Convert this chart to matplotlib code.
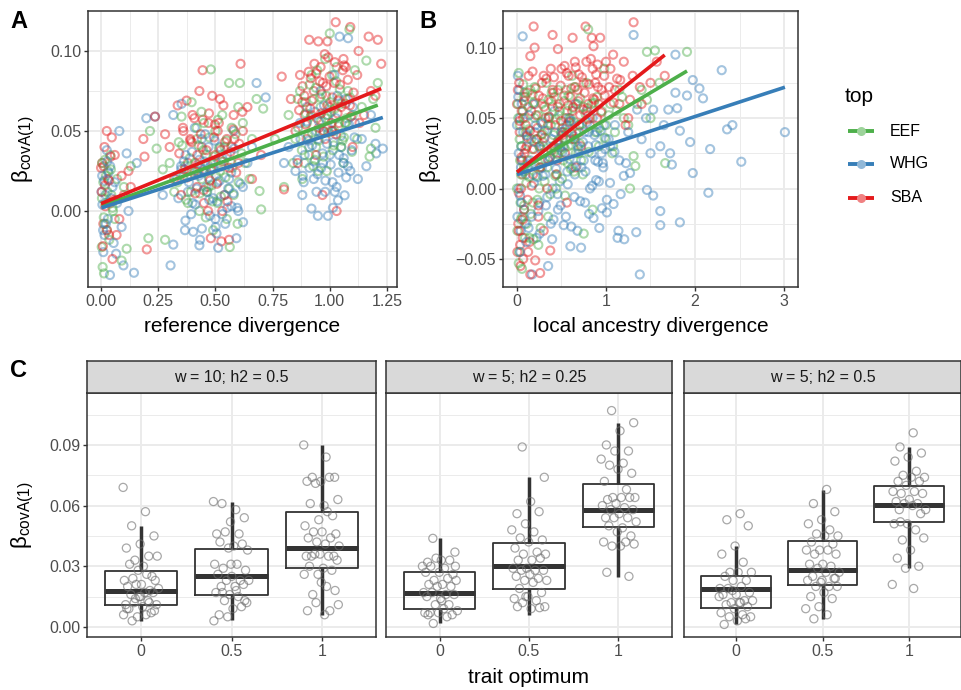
import numpy as np
import matplotlib
matplotlib.use("Agg")
import matplotlib.pyplot as plt
from matplotlib.colors import to_rgba

plt.rcParams['font.family'] = ['Liberation Sans', 'DejaVu Sans']
plt.rcParams['mathtext.fontset'] = 'custom'
plt.rcParams['mathtext.rm'] = 'Liberation Sans'
plt.rcParams['mathtext.it'] = 'Liberation Sans:italic'

# ---------------- data ----------------
groups = ['EEF', 'WHG', 'SBA']
group_colors = ['#4DAF4A', '#377EB8', '#E41A1C']

# panel A: reference divergence vs beta (spread points)
a_eef_x = [0.003, 0.007, 0.013, 0.02, 0.01, 0.03, 0.045, 0.06, 0.09, 0.112, 0.005, 0.025, 0.04, 0.07, 0.015, 0.05, 0.1, 0.13,
           0.207, 0.214, 0.243, 0.28, 0.3, 0.32, 0.352, 0.396, 0.42, 0.44, 0.46, 0.48, 0.5, 0.52, 0.54, 0.56, 0.58, 0.607, 0.63, 0.66,
           0.693, 0.70, 0.49, 0.563, 0.38, 0.41, 0.45, 0.47, 0.51, 0.53, 0.55, 0.6, 0.36, 0.43, 0.57, 0.65, 0.34, 0.62, 0.27, 0.68,
           0.8, 0.709, 0.82, 0.85, 0.87, 0.89, 0.9, 0.92, 0.94, 0.96, 0.98, 1.0, 1.02, 1.04, 1.06, 1.086, 1.1, 1.12, 1.16, 1.174,
           1.18, 1.2, 1.21, 0.88, 0.93, 0.97, 1.01, 1.05, 1.08, 0.95, 0.99, 1.03, 0.91, 1.07, 1.14, 0.86, 0.84, 1.11, 0.76, 1.19]
a_eef_y = [-0.0225, -0.035, -0.039, 0.005, 0.018, 0.025, 0.01, -0.005, -0.031, -0.0236, 0.03, -0.012, 0.035, 0.02, -0.008, 0.002, 0.015, 0.028,
           -0.017, 0.05, 0.039, -0.018, 0.03, 0.012, 0.059, 0.068, 0.045, 0.02, 0.035, 0.0885, 0.05, 0.025, 0.04, 0.08, 0.01, 0.08, 0.03, 0.045,
           0.0125, 0.001, -0.012, -0.0225, 0.005, 0.03, 0.055, 0.015, 0.005, 0.06, -0.005, 0.065, 0.022, 0.0, 0.03, 0.02, 0.043, 0.055, 0.026, 0.07,
           0.015, 0.064, 0.06, 0.045, 0.075, 0.03, 0.055, 0.085, 0.04, 0.065, 0.095, 0.111, 0.05, 0.07, 0.03, 0.1135, 0.06, 0.045, 0.094, 0.034,
           0.039, 0.052, 0.08, 0.02, 0.07, 0.05, 0.085, 0.04, 0.075, 0.025, 0.06, 0.09, 0.035, 0.055, 0.065, 0.07, 0.03, 0.088, 0.045, 0.07]
# dense cores
a_eef_cx = [0.004, 0.012, 0.022, 0.028, 0.036, 0.043, 0.052, 0.018,
            0.335, 0.355, 0.372, 0.388, 0.405, 0.418, 0.432, 0.447, 0.458, 0.466, 0.474, 0.483, 0.492, 0.503, 0.511, 0.524, 0.537,
            0.548, 0.561, 0.574, 0.588, 0.597, 0.615, 0.462, 0.478,
            0.368, 0.393, 0.427, 0.452, 0.487, 0.516, 0.544, 0.571, 0.601, 0.439,
            0.862, 0.878, 0.893, 0.905, 0.917, 0.928, 0.939, 0.951, 0.962, 0.973, 0.984, 0.995, 1.006, 1.017, 1.028, 1.039, 1.051,
            1.062, 1.074, 1.088, 1.097, 0.945, 0.987, 1.022, 0.912,
            0.895, 0.922, 0.958, 0.981, 1.013, 1.044, 1.067, 0.935, 1.002, 1.056]
a_eef_cy = [0.008, -0.004, 0.022, 0.012, -0.018, 0.026, 0.0, 0.032,
            0.018, 0.041, 0.007, 0.033, 0.024, 0.052, 0.011, 0.038, -0.004, 0.029, 0.046, 0.016, 0.034, 0.022, 0.057, 0.009, 0.031,
            0.044, 0.014, 0.027, 0.048, -0.008, 0.036, 0.012, 0.025,
            0.028, 0.012, 0.041, 0.024, 0.006, 0.039, 0.021, 0.052, 0.018, 0.062,
            0.052, 0.038, 0.068, 0.047, 0.059, 0.028, 0.077, 0.044, 0.056, 0.034, 0.072, 0.049, 0.062, 0.041, 0.081, 0.053, 0.067,
            0.046, 0.058, 0.071, 0.037, 0.088, 0.025, 0.064, 0.079,
            0.061, 0.049, 0.071, 0.058, 0.038, 0.076, 0.055, 0.032, 0.068, 0.044]

a_whg_x = [0.01, 0.039, 0.066, 0.098, 0.144, 0.08, 0.112, 0.156, 0.005, 0.02, 0.03, 0.05, 0.015, 0.04, 0.07, 0.09, 0.12, 0.025, 0.06, 0.002,
           0.198, 0.236, 0.316, 0.352, 0.304, 0.316, 0.43, 0.512, 0.592, 0.621, 0.367, 0.403, 0.68, 0.72, 0.33, 0.37, 0.40, 0.42, 0.44, 0.46, 0.48,
           0.50, 0.52, 0.54, 0.56, 0.58, 0.60, 0.64, 0.45, 0.47, 0.49, 0.51, 0.53, 0.38, 0.55, 0.41, 0.35, 0.62, 0.27, 0.66, 0.57, 0.43,
           1.043, 1.08, 1.232, 1.2, 1.203, 1.16, 1.123, 0.92, 0.948, 0.992, 1.014, 1.036, 1.065, 0.82, 0.85, 0.87, 0.89, 0.9, 0.93, 0.95,
           0.97, 0.99, 1.01, 1.03, 1.05, 1.07, 1.09, 1.11, 1.14, 0.96, 0.98, 1.0, 1.02, 0.94, 1.06, 0.88, 1.18, 0.8, 0.91, 1.1]
a_whg_y = [-0.0257, -0.040, -0.0267, -0.034, -0.0386, 0.050, 0.036, 0.030, 0.022, 0.01, -0.005, 0.015, -0.015, 0.028, 0.005, -0.01, 0.0, 0.038, 0.018, 0.012,
           0.058, 0.059, 0.060, 0.067, -0.034, -0.021, -0.0215, -0.023, -0.017, -0.007, -0.012, -0.013, 0.080, 0.071, 0.02, 0.035, 0.005, 0.025, 0.045, 0.015, 0.03,
           -0.005, 0.04, 0.01, 0.02, 0.05, 0.0, 0.03, 0.025, 0.04, 0.008, 0.018, -0.002, 0.012, 0.035, 0.052, 0.028, 0.015, 0.01, 0.04, 0.003, 0.032,
           0.109, 0.108, 0.039, 0.042, 0.036, 0.028, 0.020, 0.0015, -0.003, -0.003, 0.002, 0.0067, 0.0098, 0.04, 0.025, 0.055, 0.035, 0.065, 0.02, 0.045,
           0.03, 0.06, 0.05, 0.015, 0.04, 0.07, 0.025, 0.055, 0.045, 0.075, 0.012, 0.035, 0.085, 0.05, 0.03, 0.01, 0.06, 0.03, 0.04, 0.065]
a_whg_cx = [0.006, 0.014, 0.021, 0.033, 0.044, 0.055, 0.027, 0.009,
            0.338, 0.351, 0.369, 0.384, 0.398, 0.412, 0.427, 0.441, 0.453, 0.464, 0.476, 0.487, 0.497, 0.508, 0.519, 0.531, 0.543,
            0.556, 0.569, 0.582, 0.595, 0.609, 0.47, 0.455, 0.505,
            0.362, 0.394, 0.418, 0.446, 0.473, 0.501, 0.526, 0.552, 0.579, 0.433,
            0.858, 0.872, 0.886, 0.899, 0.911, 0.923, 0.936, 0.947, 0.958, 0.969, 0.981, 0.993, 1.004, 1.016, 1.027, 1.038, 1.049,
            1.061, 1.072, 1.084, 1.096, 1.108, 0.975, 0.942, 1.033,
            0.882, 0.907, 0.932, 0.963, 0.988, 1.012, 1.041, 1.079, 0.953, 1.022]
a_whg_cy = [0.004, 0.019, -0.008, 0.024, 0.008, -0.02, 0.031, -0.012,
            0.008, 0.026, -0.006, 0.018, 0.037, 0.004, 0.022, -0.011, 0.031, 0.012, -0.003, 0.027, 0.044, 0.006, 0.019, 0.033, -0.008,
            0.014, 0.024, 0.039, 0.002, 0.017, 0.021, 0.048, -0.014,
            0.031, -0.002, 0.014, 0.026, 0.007, -0.01, 0.028, 0.002, 0.011, -0.018,
            0.032, 0.045, 0.018, 0.056, 0.027, 0.041, 0.062, 0.023, 0.049, 0.036, 0.019, 0.052, 0.029, 0.043, 0.058, 0.024, 0.047,
            0.033, 0.021, 0.054, 0.038, 0.046, 0.066, 0.012, 0.072,
            0.022, 0.044, 0.031, 0.027, 0.042, 0.018, 0.035, 0.028, 0.056, 0.012]

a_sba_x = [0.025, 0.047, 0.05, 0.068, 0.0, 0.017, 0.005, 0.01, 0.03, 0.04, 0.06, 0.08, 0.1, 0.12, 0.015, 0.035, 0.09, 0.13,
           0.185, 0.19, 0.2, 0.236, 0.335, 0.374, 0.444, 0.48, 0.526, 0.56, 0.61, 0.3, 0.32, 0.36, 0.38, 0.4, 0.42, 0.44, 0.46, 0.47,
           0.5, 0.52, 0.54, 0.55, 0.58, 0.6, 0.64, 0.66, 0.45, 0.49, 0.51, 0.53, 0.39, 0.43, 0.57, 0.35, 0.62, 0.7, 0.28, 0.41,
           1.026, 1.09, 1.17, 1.21, 0.91, 0.95, 0.99, 1.225, 0.79, 1.126, 0.8, 1.03, 0.968, 0.83, 0.85, 0.87, 0.89, 0.93, 0.96, 0.98,
           1.0, 1.02, 1.04, 1.06, 1.08, 1.1, 1.12, 1.15, 1.18, 0.94, 0.97, 1.01, 1.05, 0.9, 1.07, 0.88, 1.13, 0.86, 1.2, 0.92]
a_sba_y = [0.050, 0.046, -0.030, -0.015, 0.027, 0.016, 0.03, -0.008, 0.02, 0.005, 0.035, -0.005, 0.01, 0.025, 0.04, -0.015, 0.022, 0.015,
           0.045, 0.034, -0.024, 0.059, 0.066, 0.069, 0.088, -0.017, -0.019, -0.018, 0.092, 0.04, 0.02, 0.05, 0.03, 0.06, 0.015, 0.04, 0.025, 0.055,
           0.035, 0.07, 0.01, 0.045, 0.06, 0.03, 0.065, 0.02, 0.005, 0.03, 0.05, 0.0, 0.045, 0.075, 0.04, 0.01, 0.05, 0.035, 0.048, 0.025,
           0.118, 0.115, 0.109, 0.107, 0.107, 0.106, 0.106, 0.092, 0.084, 0.1, 0.0135, 0.0, 0.01, 0.07, 0.05, 0.085, 0.06, 0.075, 0.09, 0.045,
           0.065, 0.08, 0.055, 0.095, 0.07, 0.04, 0.085, 0.06, 0.075, 0.035, 0.08, 0.05, 0.065, 0.045, 0.09, 0.068, 0.055, 0.03, 0.072, 0.06]
a_sba_cx = [0.003, 0.011, 0.019, 0.026, 0.034, 0.042, 0.057, 0.008,
            0.342, 0.358, 0.377, 0.391, 0.408, 0.423, 0.436, 0.449, 0.461, 0.472, 0.481, 0.494, 0.506, 0.515, 0.528, 0.541, 0.553,
            0.566, 0.578, 0.591, 0.604, 0.618, 0.468, 0.486, 0.535,
            0.365, 0.397, 0.421, 0.444, 0.476, 0.498, 0.523, 0.559, 0.583, 0.412,
            0.866, 0.881, 0.895, 0.908, 0.921, 0.933, 0.944, 0.956, 0.966, 0.978, 0.989, 0.999, 1.011, 1.022, 1.034, 1.045, 1.057,
            1.068, 1.079, 1.092, 1.104, 0.952, 0.993, 1.027, 0.917,
            0.889, 0.915, 0.941, 0.962, 0.985, 1.008, 1.037, 1.063, 1.088, 0.974]
a_sba_cy = [0.012, 0.028, 0.003, -0.012, 0.019, 0.034, 0.007, -0.022,
            0.036, 0.052, 0.021, 0.044, 0.058, 0.029, 0.048, 0.013, 0.038, 0.061, 0.026, 0.046, 0.017, 0.055, 0.031, 0.043, 0.006,
            0.037, 0.051, 0.024, 0.042, 0.062, 0.0, 0.072, 0.066,
            0.026, 0.043, 0.035, 0.057, 0.019, 0.054, 0.038, 0.027, 0.045, 0.011,
            0.063, 0.078, 0.054, 0.087, 0.069, 0.092, 0.058, 0.081, 0.073, 0.098, 0.066, 0.084, 0.071, 0.093, 0.061, 0.079, 0.088,
            0.067, 0.082, 0.059, 0.074, 0.052, 0.096, 0.048, 0.083,
            0.072, 0.064, 0.086, 0.061, 0.078, 0.055, 0.069, 0.091, 0.066, 0.05]

# panel B: local ancestry divergence vs beta
b_eef_x = [0.02, 0.07, 0.02, 0.056, 0.01, 0.03, 0.05, 0.08, 0.0, 0.04, 0.06, 0.09, 0.015, 0.035, 0.075, 0.1, 0.005, 0.045, 0.025, 0.065,
           0.12, 0.15, 0.18, 0.2, 0.22, 0.25, 0.28, 0.3, 0.33, 0.35, 0.38, 0.4, 0.42, 0.45, 0.48, 0.5, 0.52, 0.55, 0.58, 0.6, 0.62, 0.65,
           0.68, 0.7, 0.72, 0.75, 0.78, 0.8, 0.82, 0.85, 0.88, 0.9, 0.92, 0.95, 0.98, 1.0, 0.14, 0.24, 0.34, 0.44, 0.54, 0.64, 0.74, 0.84,
           0.16, 0.26, 0.36, 0.46, 0.56, 0.66,
           1.05, 1.1, 1.15, 1.2, 1.27, 1.31, 1.33, 1.46, 1.46, 1.55, 1.665, 1.91, 1.08, 1.12, 1.18, 1.25, 1.35, 1.4, 1.5, 1.6]
b_eef_y = [0.082, 0.074, -0.053, -0.057, 0.06, 0.045, 0.03, 0.015, 0.0, -0.01, -0.02, -0.035, 0.05, 0.02, 0.065, 0.04, -0.03, 0.01, -0.045, 0.055,
           0.02, 0.07, -0.01, 0.05, 0.035, 0.0, 0.06, 0.025, 0.075, -0.02, 0.045, 0.03, 0.065, 0.01, 0.055, 0.04, 0.02, 0.07, 0.03, 0.05, 0.08, 0.035,
           0.06, 0.045, 0.02, -0.032, 0.075, 0.113, 0.05, -0.015, 0.04, 0.065, 0.03, 0.055, 0.085, 0.045, -0.035, -0.04, 0.015, 0.0, -0.005, 0.012, 0.01, 0.06,
           0.035, 0.015, 0.05, 0.07, 0.04, 0.025,
           0.06, 0.04, 0.07, 0.05, 0.0, 0.023, 0.016, 0.097, 0.063, 0.098, 0.018, 0.097, 0.03, 0.055, 0.065, 0.045, 0.06, 0.07, 0.05, 0.075]
b_eef_cx = [0.03, 0.06, 0.09, 0.11, 0.13, 0.17, 0.19, 0.21, 0.23, 0.27, 0.29, 0.31, 0.32, 0.37, 0.39, 0.41, 0.43, 0.47, 0.49, 0.51,
            0.53, 0.57, 0.59, 0.61, 0.63, 0.67, 0.69, 0.71, 0.73, 0.77, 0.08, 0.14, 0.2, 0.26, 0.34, 0.4, 0.46, 0.52, 0.58, 0.64,
            0.105, 0.125, 0.155, 0.175, 0.215, 0.235, 0.265, 0.285, 0.315, 0.355, 0.375, 0.415, 0.435, 0.465, 0.505, 0.535, 0.565,
            0.605, 0.645, 0.705, 0.745, 0.805, 0.865, 0.925, 0.985, 1.03, 1.07, 0.045, 0.085, 0.185]
b_eef_cy = [0.035, 0.012, 0.05, -0.025, 0.042, 0.028, 0.061, 0.016, -0.008, 0.047, 0.033, 0.005, 0.056, 0.022, 0.068, 0.038, 0.009, 0.052, 0.027, 0.043,
            0.062, 0.018, 0.048, 0.031, 0.057, 0.039, 0.025, 0.064, 0.046, 0.053, -0.012, 0.008, 0.072, 0.03, 0.041, 0.058, 0.024, 0.036, 0.066, 0.047,
            0.004, 0.058, -0.018, 0.067, 0.009, 0.052, -0.028, 0.039, 0.021, 0.063, -0.004, 0.026, 0.049, 0.034, 0.007, 0.029, 0.055,
            0.014, 0.072, 0.032, 0.058, 0.026, 0.061, 0.043, 0.036, 0.052, 0.025, -0.022, 0.068, -0.036]

b_whg_x = [0.064, 0.17, 0.01, 0.03, 0.05, 0.02, 0.08, 0.0, 0.04, 0.06, 0.1, 0.015, 0.035, 0.07, 0.09, 0.025, 0.045, 0.005, 0.12, 0.055,
           0.15, 0.2, 0.25, 0.3, 0.35, 0.35, 0.4, 0.45, 0.5, 0.55, 0.6, 0.6, 0.65, 0.7, 0.72, 0.75, 0.8, 0.85, 0.86, 0.9, 0.95, 0.954, 1.0,
           1.01, 1.01, 0.18, 0.28, 0.38, 0.48, 0.58, 0.68, 0.78, 0.88, 0.98, 0.22, 0.32, 0.42, 0.52, 0.62, 0.82, 0.92, 0.66, 0.76, 0.46, 0.56,
           1.31, 2.3, 1.78, 1.975, 2.05, 2.09, 1.91, 1.78, 2.42, 2.36, 3.01, 2.17, 2.52, 1.975, 2.15, 1.83, 1.61, 1.61, 1.34, 1.205, 1.13,
           1.14, 1.38, 1.945, 1.83, 1.7, 1.8, 1.53, 1.35, 1.61, 1.5, 1.46, 1.53, 1.27, 1.2, 1.085, 1.72, 1.74, 1.05, 1.1, 1.15, 1.25, 1.4, 1.45, 1.65]
b_whg_y = [0.108, -0.061, 0.08, 0.05, 0.03, 0.0, -0.015, 0.045, -0.03, 0.02, 0.01, 0.065, -0.005, 0.04, -0.025, 0.07, 0.015, -0.02, 0.035, 0.06,
           0.02, 0.04, -0.01, 0.03, 0.05, -0.055, 0.0, 0.025, 0.04, -0.02, 0.035, -0.041, 0.01, 0.045, -0.042, 0.02, 0.03, 0.05, -0.021, 0.04, 0.025, -0.014, 0.035,
           -0.008, -0.017, 0.06, 0.015, -0.025, 0.005, 0.05, -0.03, 0.055, 0.02, 0.045, -0.035, 0.01, 0.055, 0.03, 0.015, 0.0, 0.005, 0.06, 0.04, -0.015, 0.045,
           0.109, 0.084, 0.095, 0.077, 0.071, 0.064, 0.066, 0.068, 0.045, 0.042, 0.040, 0.028, 0.019, 0.011, -0.003, -0.024, -0.026, -0.016, -0.031, -0.036, -0.035,
           -0.030, -0.061, 0.033, 0.041, 0.056, 0.057, 0.056, 0.056, 0.030, 0.025, -0.001, -0.005, 0.011, 0.009, -0.011, 0.025, 0.017, 0.03, 0.045, 0.02, 0.04, 0.035, 0.05, 0.045]
b_whg_cx = [0.02, 0.05, 0.08, 0.11, 0.13, 0.16, 0.19, 0.21, 0.24, 0.27, 0.29, 0.31, 0.34, 0.37, 0.39, 0.41, 0.44, 0.47, 0.49, 0.51,
            0.54, 0.57, 0.59, 0.61, 0.64, 0.67, 0.69, 0.71, 0.74, 0.77, 0.79, 0.81, 0.84, 0.87, 0.89, 0.91, 0.94, 0.97, 0.99, 1.03,
            0.105, 0.135, 0.165, 0.195, 0.225, 0.255, 0.285, 0.325, 0.355, 0.395, 0.425, 0.455, 0.485, 0.525, 0.565, 0.605, 0.645,
            0.685, 0.725, 0.765, 0.805, 0.845, 0.885, 0.925, 0.965, 1.045, 1.095, 1.165, 1.225, 0.035]
b_whg_cy = [0.025, -0.01, 0.012, 0.038, -0.028, 0.018, 0.004, 0.045, -0.016, 0.028, 0.009, 0.041, -0.006, 0.022, 0.035, -0.022, 0.014, 0.031, -0.012, 0.026,
            0.042, 0.003, 0.021, -0.027, 0.037, 0.016, 0.028, -0.009, 0.033, 0.012, 0.047, -0.018, 0.025, 0.038, 0.006, 0.019, 0.041, 0.015, 0.028, 0.035,
            -0.038, 0.052, -0.02, 0.033, 0.008, -0.032, 0.046, -0.012, 0.02, -0.036, 0.04, -0.004, 0.029, -0.026, 0.012, 0.048, -0.006,
            0.03, 0.015, -0.01, 0.04, 0.002, 0.031, -0.028, 0.018, 0.004, 0.026, -0.004, 0.018, -0.045]

b_sba_x = [0.04, 0.15, 0.02, 0.0, 0.01, 0.03, 0.05, 0.07, 0.09, 0.11, 0.015, 0.035, 0.06, 0.08, 0.1, 0.025, 0.045, 0.005, 0.13, 0.065, 0.085, 0.055,
           0.187, 0.77, 0.40, 0.625, 0.198, 0.15, 0.84, 0.935, 0.46, 0.86, 0.26, 0.205, 0.374, 0.2, 0.25, 0.3, 0.35, 0.4, 0.45, 0.5, 0.55, 0.6,
           0.65, 0.7, 0.75, 0.8, 0.85, 0.9, 0.95, 1.0, 0.22, 0.28, 0.32, 0.38, 0.42, 0.48, 0.52, 0.58, 0.62, 0.68, 0.72, 0.78, 0.82, 0.88,
           0.92, 0.98, 0.18, 0.24, 0.34, 0.44, 0.54, 0.64, 0.3, 0.56, 0.66,
           1.31, 1.57, 1.38, 1.27, 1.16, 1.05, 1.1, 1.15, 1.2, 1.25, 1.3, 1.4, 1.5, 1.66, 1.08, 1.22]
b_sba_y = [-0.055, -0.061, -0.003, 0.06, 0.07, 0.04, 0.02, 0.05, 0.065, 0.03, -0.025, -0.04, 0.01, -0.015, 0.045, 0.075, 0.0, -0.045, 0.08, -0.035, 0.025, 0.055,
           0.115, 0.115, 0.109, 0.107, 0.100, 0.094, 0.107, 0.107, 0.099, 0.101, -0.060, -0.051, -0.044, 0.06, 0.03, 0.08, 0.045, 0.07, 0.02, 0.085, 0.05, 0.065,
           0.09, 0.04, 0.075, 0.06, 0.085, 0.05, 0.07, 0.09, 0.035, 0.075, 0.05, 0.085, 0.03, 0.06, 0.04, 0.08, 0.055, 0.07, 0.03, 0.09, 0.045, 0.075,
           0.06, 0.08, 0.01, -0.02, 0.0, 0.01, 0.025, 0.035, -0.03, -0.01, 0.015,
           0.118, 0.090, 0.072, 0.063, 0.077, 0.085, 0.07, 0.06, 0.09, 0.05, 0.08, 0.06, 0.075, 0.08, 0.095, 0.045]
b_sba_cx = [0.03, 0.05, 0.08, 0.11, 0.12, 0.16, 0.19, 0.21, 0.23, 0.26, 0.29, 0.31, 0.33, 0.36, 0.39, 0.41, 0.43, 0.46, 0.49, 0.51,
            0.53, 0.56, 0.59, 0.61, 0.63, 0.66, 0.69, 0.71, 0.73, 0.76, 0.79, 0.81, 0.83, 0.87, 0.89, 0.91, 0.02, 0.07, 0.14, 0.24,
            0.095, 0.115, 0.145, 0.175, 0.215, 0.245, 0.275, 0.305, 0.345, 0.385, 0.415, 0.455, 0.495, 0.535, 0.575, 0.615, 0.655,
            0.695, 0.745, 0.795, 0.855, 0.905, 0.945, 0.985, 1.035, 1.085, 1.125, 0.065, 0.125, 0.165]
b_sba_cy = [0.048, 0.022, 0.062, 0.037, -0.008, 0.055, 0.028, 0.071, 0.043, 0.015, 0.064, 0.036, 0.078, 0.051, 0.027, 0.068, 0.045, 0.058, 0.073, 0.038,
            0.066, 0.082, 0.047, 0.071, 0.058, 0.086, 0.062, 0.052, 0.079, 0.068, 0.057, 0.074, 0.092, 0.063, 0.081, 0.072, -0.03, -0.05, -0.038, -0.012,
            0.028, 0.068, 0.041, 0.083, 0.052, 0.066, 0.038, 0.058, 0.021, 0.062, 0.079, 0.033, 0.048, 0.087, 0.059, 0.039, 0.072,
            0.081, 0.056, 0.049, 0.064, 0.088, 0.054, 0.066, 0.072, 0.061, 0.078, -0.022, -0.045, 0.002]

# fitted lines (intercept, slope) per group EEF, WHG, SBA
a_fit_intercept = [0.0029, 0.0019, 0.0046]
a_fit_slope = [0.0523, 0.0459, 0.0587]
b_fit_intercept = [0.0116, 0.0099, 0.0116]
b_fit_slope = [0.0376, 0.0206, 0.0501]

# panel C: boxplots per facet
facet_labels = ['w = 10; h2 = 0.5', 'w = 5; h2 = 0.25', 'w = 5; h2 = 0.5']
optimum_labels = ['0', '0.5', '1']

c1_med = [0.018, 0.0254, 0.0388]
c1_q1 = [0.0107, 0.0157, 0.029]
c1_q3 = [0.0277, 0.0383, 0.0566]
c1_lo = [0.003, 0.0036, 0.0058]
c1_hi = [0.0499, 0.0618, 0.0898]

c2_med = [0.0167, 0.0301, 0.0576]
c2_q1 = [0.0089, 0.0188, 0.0495]
c2_q3 = [0.0271, 0.0413, 0.0708]
c2_lo = [0.0017, 0.0061, 0.0248]
c2_hi = [0.0438, 0.074, 0.1009]

c3_med = [0.0187, 0.0279, 0.0601]
c3_q1 = [0.0091, 0.0208, 0.0518]
c3_q3 = [0.0254, 0.0424, 0.0695]
c3_lo = [0.0012, 0.0041, 0.0289]
c3_hi = [0.0398, 0.0675, 0.0888]

c1_opt0 = [0.069, 0.057, 0.050, 0.045, 0.041, 0.039, 0.035, 0.033, 0.035, 0.030, 0.031, 0.025, 0.028, 0.023, 0.026, 0.024, 0.023,
           0.021, 0.020, 0.018, 0.021, 0.019, 0.017, 0.016, 0.017, 0.015, 0.011, 0.013, 0.012, 0.011, 0.010, 0.009, 0.007, 0.005,
           0.006, 0.006, 0.003, 0.008, 0.015, 0.009, 0.012, 0.014]
c1_opt05 = [0.062, 0.058, 0.061, 0.054, 0.052, 0.046, 0.046, 0.047, 0.038, 0.040, 0.042, 0.041, 0.039, 0.031, 0.031, 0.029, 0.028,
            0.025, 0.026, 0.023, 0.023, 0.023, 0.020, 0.020, 0.021, 0.016, 0.017, 0.015, 0.013, 0.012, 0.009, 0.006, 0.010, 0.005,
            0.003, 0.018, 0.017, 0.013, 0.031]
c1_opt1 = [0.090, 0.084, 0.074, 0.074, 0.072, 0.072, 0.074, 0.071, 0.063, 0.060, 0.061, 0.055, 0.053, 0.050, 0.057, 0.047, 0.046,
           0.047, 0.044, 0.044, 0.042, 0.040, 0.041, 0.035, 0.035, 0.036, 0.035, 0.035, 0.036, 0.033, 0.029, 0.030, 0.028, 0.026,
           0.026, 0.020, 0.016, 0.018, 0.022, 0.008, 0.008, 0.012, 0.011, 0.006]
c2_opt0 = [0.0438, 0.037, 0.033, 0.032, 0.033, 0.034, 0.030, 0.029, 0.030, 0.026, 0.027, 0.027, 0.024, 0.023, 0.023, 0.021, 0.021,
           0.020, 0.020, 0.017, 0.016, 0.017, 0.016, 0.014, 0.015, 0.011, 0.011, 0.008, 0.009, 0.007, 0.006, 0.007, 0.007, 0.005,
           0.0017, 0.030, 0.013, 0.006]
c2_opt05 = [0.089, 0.074, 0.062, 0.056, 0.057, 0.051, 0.048, 0.047, 0.044, 0.043, 0.042, 0.039, 0.037, 0.036, 0.036, 0.033, 0.033,
            0.034, 0.029, 0.029, 0.028, 0.028, 0.028, 0.026, 0.025, 0.024, 0.023, 0.023, 0.022, 0.019, 0.017, 0.015, 0.014, 0.013,
            0.012, 0.010, 0.009, 0.010, 0.0095, 0.015]
c2_opt1 = [0.107, 0.101, 0.097, 0.090, 0.087, 0.087, 0.083, 0.081, 0.080, 0.076, 0.078, 0.072, 0.068, 0.064, 0.064, 0.064, 0.063,
           0.064, 0.061, 0.060, 0.059, 0.058, 0.058, 0.056, 0.054, 0.054, 0.054, 0.052, 0.049, 0.050, 0.045, 0.047, 0.042, 0.042,
           0.040, 0.041, 0.040, 0.027, 0.025]
c3_opt0 = [0.056, 0.053, 0.050, 0.040, 0.036, 0.032, 0.027, 0.027, 0.027, 0.025, 0.023, 0.023, 0.019, 0.020, 0.019, 0.017, 0.016,
           0.016, 0.013, 0.012, 0.013, 0.012, 0.011, 0.010, 0.009, 0.007, 0.006, 0.005, 0.005, 0.003, 0.0012, 0.004, 0.018, 0.015, 0.012]
c3_opt05 = [0.068, 0.061, 0.057, 0.053, 0.051, 0.048, 0.046, 0.045, 0.045, 0.042, 0.041, 0.038, 0.038, 0.038, 0.036, 0.036, 0.031,
            0.031, 0.030, 0.029, 0.027, 0.027, 0.025, 0.024, 0.022, 0.023, 0.020, 0.020, 0.020, 0.017, 0.015, 0.014, 0.010, 0.009,
            0.006, 0.004, 0.024, 0.023]
c3_opt1 = [0.096, 0.089, 0.086, 0.084, 0.082, 0.077, 0.075, 0.074, 0.074, 0.072, 0.072, 0.070, 0.067, 0.067, 0.066, 0.066, 0.063,
           0.062, 0.061, 0.061, 0.058, 0.060, 0.058, 0.056, 0.051, 0.051, 0.048, 0.043, 0.044, 0.038, 0.034, 0.030, 0.029, 0.021,
           0.019, 0.052]

# ---------------- layout helpers ----------------
W, H = 962, 690
fig = plt.figure(figsize=(W / 100, H / 100), dpi=100)

GRID = '#EBEBEB'
DARK = '#333333'
TICKTXT = '#4D4D4D'
TICK_FS = 11.5
TITLE_FS = 15


def px_axes(l, t, r, b):
    return fig.add_axes([l / W, 1 - b / H, (r - l) / W, (b - t) / H])


def theme_bw(ax, xmajor=None, xminor=None, ymajor=None, yminor=None):
    if xmajor is not None:
        ax.set_xticks(xmajor)
    if xminor is not None:
        ax.set_xticks(xminor, minor=True)
    if ymajor is not None:
        ax.set_yticks(ymajor)
    if yminor is not None:
        ax.set_yticks(yminor, minor=True)
    ax.grid(which='major', color=GRID, lw=1.4)
    ax.grid(which='minor', color=GRID, lw=0.7)
    ax.set_axisbelow(True)
    ax.tick_params(which='minor', length=0)
    ax.tick_params(which='major', length=3, width=1.0, color=DARK,
                   labelcolor=TICKTXT, labelsize=TICK_FS, pad=2)
    for s in ax.spines.values():
        s.set_color(DARK)
        s.set_linewidth(1.1)


def fig_text(x, y, s, **kw):
    fig.text(x / W, 1 - y / H, s, **kw)


def scatter_panel(ax, xs, ys, intercepts, slopes):
    # interleave the groups so colours mix the way they do in the original
    allx, ally, allc, rank = [], [], [], []
    for gx, gy, col in zip(xs, ys, group_colors):
        n = len(gx)
        allx += gx
        ally += gy
        allc += [to_rgba(col, 0.45)] * n
        rank += list((np.arange(n) + 0.5) / n)
    order = np.argsort(rank, kind='stable')
    ax.scatter(np.array(allx)[order], np.array(ally)[order], s=34,
               facecolors='none', edgecolors=[allc[i] for i in order],
               linewidths=1.5, zorder=2)
    for gx, b0, b1, col in zip(xs, intercepts, slopes, group_colors):
        x0, x1 = min(gx), max(gx)
        ax.plot([x0, x1], [b0 + b1 * x0, b0 + b1 * x1], color=col, lw=2.6,
                solid_capstyle='butt', zorder=3)


ylab = r'$\mathrm{\beta}_{\mathrm{covA(1)}}$'
YLAB_FS = 16

# ---------------- panel A ----------------
axA = px_axes(88, 11, 397, 287)
scatter_panel(axA, [a_eef_x + a_eef_cx, a_whg_x + a_whg_cx, a_sba_x + a_sba_cx],
              [a_eef_y + a_eef_cy, a_whg_y + a_whg_cy, a_sba_y + a_sba_cy],
              a_fit_intercept, a_fit_slope)
axA.set_xlim(-0.057, 1.294)
axA.set_ylim(-0.0475, 0.125)
theme_bw(axA, [0, 0.25, 0.5, 0.75, 1.0, 1.25], [0.125, 0.375, 0.625, 0.875, 1.125],
         [0, 0.05, 0.10], [-0.025, 0.025, 0.075])
axA.set_xticklabels(['0.00', '0.25', '0.50', '0.75', '1.00', '1.25'])
axA.set_yticklabels(['0.00', '0.05', '0.10'])
fig_text(242.5, 332, 'reference divergence', ha='center', va='baseline', fontsize=TITLE_FS)
fig_text(24, 149, ylab, ha='center', va='center', rotation=90, fontsize=YLAB_FS)

# ---------------- panel B ----------------
axB = px_axes(503, 11, 798, 287)
scatter_panel(axB, [b_eef_x + b_eef_cx, b_whg_x + b_whg_cx, b_sba_x + b_sba_cx],
              [b_eef_y + b_eef_cy, b_whg_y + b_whg_cy, b_sba_y + b_sba_cy],
              b_fit_intercept, b_fit_slope)
axB.set_xlim(-0.157, 3.157)
axB.set_ylim(-0.0699, 0.126)
theme_bw(axB, [0, 1, 2, 3], [0.5, 1.5, 2.5],
         [-0.05, 0, 0.05, 0.10], [-0.025, 0.025, 0.075, 0.125])
axB.set_xticklabels(['0', '1', '2', '3'])
axB.set_yticklabels(['\u22120.05', '0.00', '0.05', '0.10'])
fig_text(650.5, 332, 'local ancestry divergence', ha='center', va='baseline', fontsize=TITLE_FS)
fig_text(432, 149, ylab, ha='center', va='center', rotation=90, fontsize=YLAB_FS)

# legend
lax = px_axes(820, 70, 962, 220)
lax.set_xlim(820, 962)
lax.set_ylim(220, 70)
lax.axis('off')
lax.text(845, 102, 'top', ha='left', va='baseline', fontsize=TITLE_FS)
for yk, g, col in zip([131, 164, 198], groups, group_colors):
    lax.plot([848, 874], [yk, yk], color=col, lw=2.8, solid_capstyle='butt')
    lax.plot([861], [yk], 'o', ms=6.5, mew=0,
             color=tuple(0.55 * np.array(to_rgba(col)[:3]) + 0.45))
    lax.text(890, yk, g, ha='left', va='center', fontsize=TICK_FS)

# ---------------- panel C ----------------
facet_px = [(87, 376), (386, 672), (684, 961)]
facet_stats = [(c1_med, c1_q1, c1_q3, c1_lo, c1_hi),
               (c2_med, c2_q1, c2_q3, c2_lo, c2_hi),
               (c3_med, c3_q1, c3_q3, c3_lo, c3_hi)]
facet_points = [(c1_opt0, c1_opt05, c1_opt1),
                (c2_opt0, c2_opt05, c2_opt1),
                (c3_opt0, c3_opt05, c3_opt1)]

for k, ((l, r), label, stats, pts) in enumerate(zip(facet_px, facet_labels, facet_stats, facet_points)):
    ax = px_axes(l, 393, r, 637)
    med, q1, q3, lo, hi = stats
    bstats = [dict(med=m, q1=a, q3=b, whislo=w0, whishi=w1, fliers=[])
              for m, a, b, w0, w1 in zip(med, q1, q3, lo, hi)]
    ax.bxp(bstats, positions=[1, 2, 3], widths=0.8, showfliers=False, showcaps=False,
           boxprops=dict(color=DARK, lw=1.3),
           whiskerprops=dict(color=DARK, lw=2.5, solid_capstyle='butt'),
           medianprops=dict(color=DARK, lw=3.6, solid_capstyle='butt'))
    for pos, yv in zip([1, 2, 3], pts):
        n = len(yv)
        jit = ((np.arange(n) * 0.618034 + 0.31 * k) % 1 - 0.5) * 0.4
        ax.scatter(pos + jit, yv, s=34, facecolors='none',
                   edgecolors=to_rgba('#6e6e6e', 0.6), linewidths=0.9, zorder=4)
    ax.set_xlim(0.4, 3.6)
    ax.set_ylim(-0.005, 0.1157)
    theme_bw(ax, [1, 2, 3], None, [0, 0.03, 0.06, 0.09], [0.015, 0.045, 0.075, 0.105])
    ax.set_xticklabels(optimum_labels)
    if k == 0:
        ax.set_yticklabels(['0.00', '0.03', '0.06', '0.09'])
    else:
        ax.tick_params(axis='y', length=0, labelleft=False)

    sax = px_axes(l, 361, r, 393)
    sax.set_facecolor('#D9D9D9')
    sax.set_xticks([])
    sax.set_yticks([])
    for s in sax.spines.values():
        s.set_color(DARK)
        s.set_linewidth(1.1)
    sax.text(0.5, 0.5, label, ha='center', va='center', fontsize=TICK_FS,
             color='#1A1A1A', transform=sax.transAxes)

fig_text(529, 683, 'trait optimum', ha='center', va='baseline', fontsize=TITLE_FS)
fig_text(23, 515, ylab, ha='center', va='center', rotation=90, fontsize=YLAB_FS)

# panel tags
fig_text(10, 28, 'A', ha='left', va='baseline', fontsize=17, fontweight='bold')
fig_text(419, 28, 'B', ha='left', va='baseline', fontsize=17, fontweight='bold')
fig_text(10, 377, 'C', ha='left', va='baseline', fontsize=17, fontweight='bold')

fig.savefig('out.png', dpi=100)
